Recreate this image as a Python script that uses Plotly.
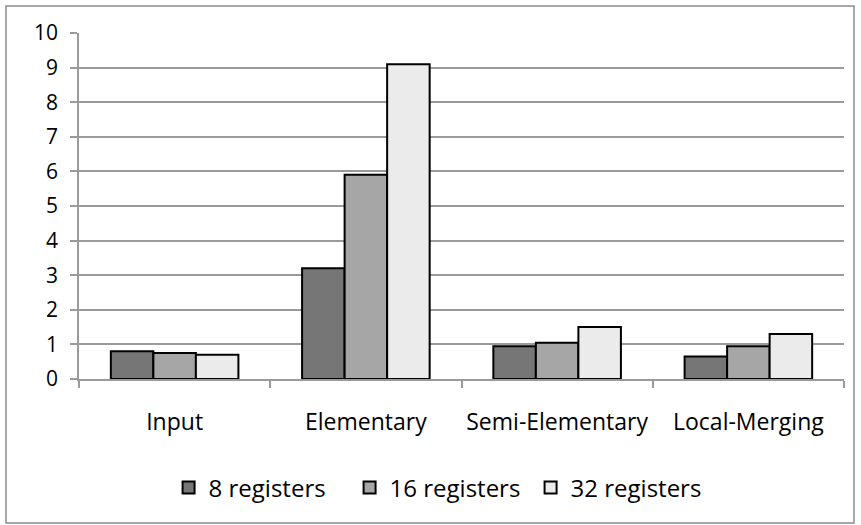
import plotly.graph_objects as go

categories = ["Input", "Elementary", "Semi-Elementary", "Local-Merging"]
series_names = ["8 registers", "16 registers", "32 registers"]
regs_8 = [0.8, 3.2, 0.95, 0.65]
regs_16 = [0.75, 5.9, 1.05, 0.95]
regs_32 = [0.7, 9.1, 1.5, 1.3]
y_ticks = list(range(0, 11))

colors = ["#767676", "#a6a6a6", "#ebebeb"]
font_family = "'Open Sans', 'Noto Sans', sans-serif"

fig = go.Figure()
for name, vals, col in zip(series_names, [regs_8, regs_16, regs_32], colors):
    fig.add_trace(go.Bar(
        x=categories,
        y=vals,
        name=name,
        marker=dict(color=col, line=dict(color="black", width=2)),
    ))

# plot area in the reference: x 79..844, y 33..379
fig.update_layout(
    width=861,
    height=525,
    margin=dict(l=79, r=17, t=33, b=146),
    paper_bgcolor="white",
    plot_bgcolor="white",
    barmode="group",
    bargap=0.333,
    bargroupgap=0,
    font=dict(family=font_family, size=21, color="black"),
    showlegend=True,
    legend=dict(
        orientation="h",
        x=0.472, xanchor="center",
        y=-0.315, yanchor="middle",
        font=dict(size=24),
        itemwidth=30,
        entrywidth=136,
        traceorder="normal",
    ),
    xaxis=dict(
        showline=True, linecolor="#9a9a9a", linewidth=1.5,
        ticks="outside", tickson="boundaries", ticklen=7,
        tickcolor="#9a9a9a", tickwidth=1.5,
        ticklabelstandoff=22,
        tickfont=dict(size=23),
        tickangle=0,
        automargin=False,
        showgrid=False,
    ),
    yaxis=dict(
        range=[0, 10],
        tickvals=y_ticks,
        showline=True, linecolor="#9a9a9a", linewidth=1.5,
        ticks="outside", ticklen=7, tickcolor="#9a9a9a", tickwidth=1.5,
        showgrid=True, gridcolor="#9a9a9a", gridwidth=1.5,
        zeroline=False,
        ticklabelstandoff=8,
        tickfont=dict(size=21),
        automargin=False,
    ),
    shapes=[dict(
        type="rect", xref="paper", yref="paper",
        x0=(6 - 79) / 765, x1=1 + (854 - 844) / 765,
        y0=-(523 - 379) / 346, y1=1 + (33 - 6) / 346,
        line=dict(color="#8c8c8c", width=1.5),
        fillcolor="rgba(0,0,0,0)",
        layer="below",
    )],
)

fig.write_html("out.html", config={"displayModeBar": False},
               post_script="document.body.style.margin='0';")
